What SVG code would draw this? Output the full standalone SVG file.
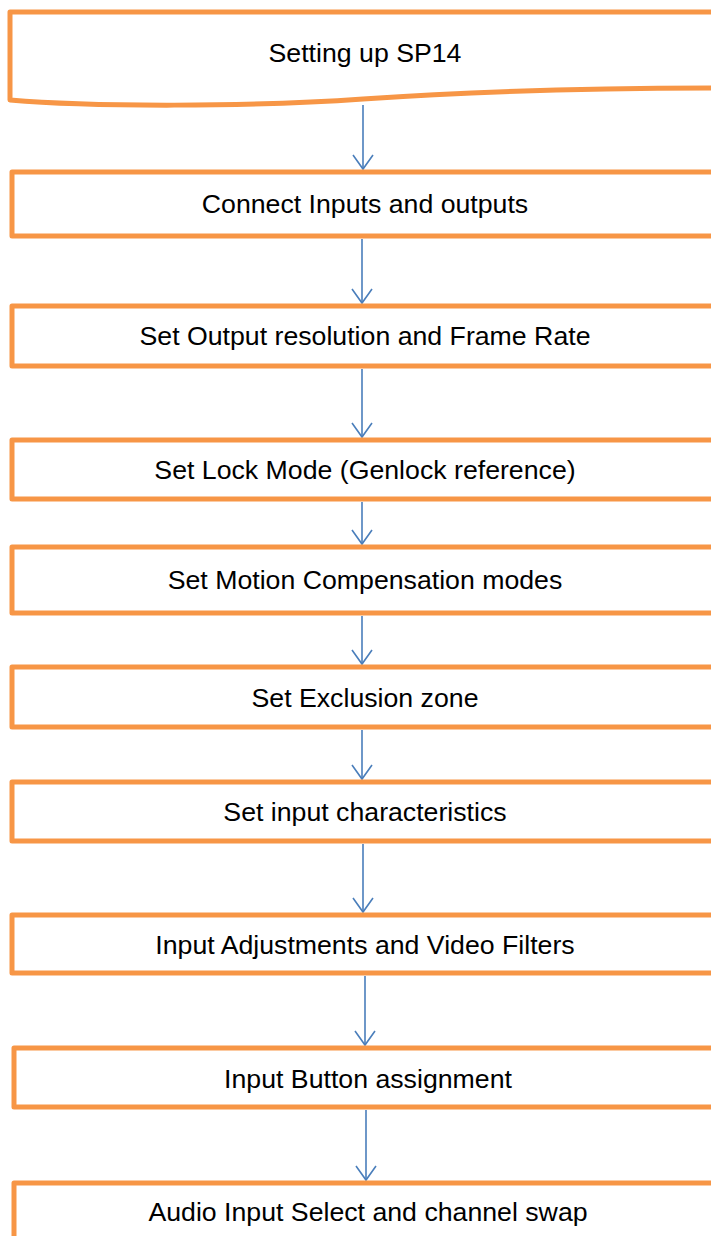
<svg xmlns="http://www.w3.org/2000/svg" width="711" height="1236" viewBox="0 0 711 1236">
<style>
.box{fill:#fff;stroke:#F79646;stroke-width:5;stroke-linejoin:round}
.lbl{font-family:"Liberation Sans",Arial,sans-serif;font-size:26.7px;fill:#000;text-anchor:middle}
.conn{fill:none;stroke:#4A7EBB;stroke-width:1.6}
</style>
<defs>
<marker id="arr" markerUnits="userSpaceOnUse" markerWidth="20" markerHeight="24" refX="0" refY="0" orient="auto" overflow="visible">
<path d="M-14,-10 L0,0 L-14,10" fill="none" stroke="#4A7EBB" stroke-width="1.6"/>
</marker>
</defs>
<rect width="711" height="1236" fill="#fff"/>
<g id="connectors">
<line class="conn" x1="363" y1="105" x2="363" y2="169" marker-end="url(#arr)"/>
<line class="conn" x1="362" y1="239" x2="362" y2="303" marker-end="url(#arr)"/>
<line class="conn" x1="362" y1="369" x2="362" y2="437" marker-end="url(#arr)"/>
<line class="conn" x1="362" y1="502" x2="362" y2="544" marker-end="url(#arr)"/>
<line class="conn" x1="362" y1="616" x2="362" y2="664" marker-end="url(#arr)"/>
<line class="conn" x1="362" y1="730" x2="362" y2="779" marker-end="url(#arr)"/>
<line class="conn" x1="363" y1="844" x2="363" y2="912" marker-end="url(#arr)"/>
<line class="conn" x1="365" y1="976" x2="365" y2="1045" marker-end="url(#arr)"/>
<line class="conn" x1="366" y1="1110" x2="366" y2="1180" marker-end="url(#arr)"/>
</g>
<g id="n0">
<path class="box" d="M10,100 L10,12 L720,12 L720,88 C600,88 476,91 363,99 C250,107 90,107 10,100 Z"/>
<text class="lbl" x="365" y="62">Setting up SP14</text>
</g>
<g id="n1">
<rect class="box" x="12" y="172" width="708" height="64"/>
<text class="lbl" x="365" y="213">Connect Inputs and outputs</text>
</g>
<g id="n2">
<rect class="box" x="12" y="306" width="708" height="60"/>
<text class="lbl" x="365" y="345">Set Output resolution and Frame Rate</text>
</g>
<g id="n3">
<rect class="box" x="12" y="440" width="708" height="59"/>
<text class="lbl" x="365" y="479">Set Lock Mode (Genlock reference)</text>
</g>
<g id="n4">
<rect class="box" x="12" y="547" width="708" height="66"/>
<text class="lbl" x="365" y="589">Set Motion Compensation modes</text>
</g>
<g id="n5">
<rect class="box" x="12" y="667" width="708" height="60"/>
<text class="lbl" x="365" y="707">Set Exclusion zone</text>
</g>
<g id="n6">
<rect class="box" x="12" y="782" width="708" height="59"/>
<text class="lbl" x="365" y="821">Set input characteristics</text>
</g>
<g id="n7">
<rect class="box" x="12" y="915" width="708" height="58"/>
<text class="lbl" x="365" y="954">Input Adjustments and Video Filters</text>
</g>
<g id="n8">
<rect class="box" x="14" y="1048" width="706" height="59"/>
<text class="lbl" x="368" y="1088">Input Button assignment</text>
</g>
<g id="n9">
<rect class="box" x="14" y="1183" width="706" height="80"/>
<text class="lbl" x="368" y="1221">Audio Input Select and channel swap</text>
</g>
</svg>
